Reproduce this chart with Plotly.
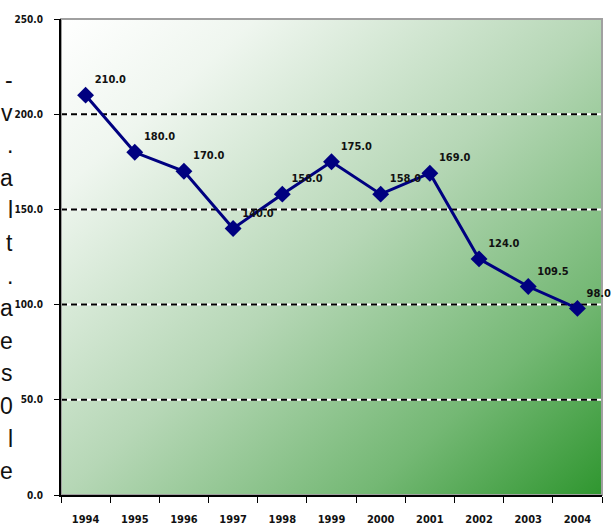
import base64
import plotly.graph_objects as go

# Series data
years = ["1994", "1995", "1996", "1997", "1998", "1999",
         "2000", "2001", "2002", "2003", "2004"]
values = [210.0, 180.0, 170.0, 140.0, 158.0, 175.0,
          158.0, 169.0, 124.0, 109.5, 98.0]
y_ticks = [0, 50, 100, 150, 200, 250]
grid_values = [50, 100, 150, 200]

# Line-ends of a neighbouring text column that run into the left edge
side_text = ["-", "v", ".", "a", "l", "t", ".", "a", "e", "s", "0", "l", "e"]

W, H = 611, 531
M_L, M_R, M_T, M_B = 61, 9, 19, 36
narrow = "DejaVu Sans Condensed, Liberation Sans Narrow, Arial Narrow, sans-serif"

# Diagonal white-to-green backdrop for the plot area
svg = (
    '<svg xmlns="http://www.w3.org/2000/svg" width="200" height="200" '
    'preserveAspectRatio="none"><defs><linearGradient id="g" x1="0" y1="0" '
    'x2="1" y2="1">'
    '<stop offset="0" stop-color="#ffffff"/>'
    '<stop offset="0.18" stop-color="#eff6ef"/>'
    '<stop offset="0.5" stop-color="#b6d7b6"/>'
    '<stop offset="0.78" stop-color="#74b874"/>'
    '<stop offset="1" stop-color="#2f962f"/>'
    '</linearGradient></defs>'
    '<rect width="200" height="200" fill="url(#g)"/></svg>'
)
bg_src = "data:image/svg+xml;base64," + base64.b64encode(svg.encode()).decode()

fig = go.Figure()
fig.add_trace(go.Scatter(
    x=years, y=values,
    mode="lines+markers+text",
    line=dict(color="#000080", width=3),
    marker=dict(symbol="diamond", size=13, color="#000080"),
    text=[f"<b>{v:.1f}</b>" for v in values],
    textposition="top right",
    textfont=dict(family=narrow, size=11, color="#111111"),
    cliponaxis=False,
    showlegend=False,
))

shapes = []
for v in grid_values:
    shapes.append(dict(type="line", xref="paper", x0=0, x1=1, yref="y", y0=v, y1=v,
                       line=dict(color="white", width=2), layer="between"))
    shapes.append(dict(type="line", xref="paper", x0=0, x1=1, yref="y", y0=v, y1=v,
                       line=dict(color="black", width=2, dash="6px,4px"), layer="between"))
shapes.append(dict(type="rect", xref="paper", yref="paper", x0=0, x1=1, y0=0, y1=1,
                   line=dict(color="#a0a0a0", width=2), layer="between"))

plot_w = W - M_L - M_R
plot_h = H - M_T - M_B
annotations = []
line_gap = 32.6
for i, ch in enumerate(side_text):
    px_y = 80 + i * line_gap
    annotations.append(dict(
        text=ch, xref="paper", yref="paper",
        x=(15 - M_L) / plot_w, y=1 - (px_y - M_T) / plot_h,
        xanchor="right", yanchor="middle", showarrow=False,
        font=dict(family="Liberation Sans, Arial", size=23, color="#111111"),
    ))

x_font = dict(family=narrow, size=11, color="#111111", weight="bold")
y_font = dict(family=narrow, size=10, color="#111111", weight="bold")

fig.update_layout(
    width=W, height=H,
    margin=dict(l=M_L, r=M_R, t=M_T, b=M_B, pad=0),
    paper_bgcolor="white",
    plot_bgcolor="rgba(0,0,0,0)",
    images=[dict(source=bg_src, xref="paper", yref="paper", x=0, y=1,
                 sizex=1, sizey=1, sizing="stretch", layer="below")],
    shapes=shapes,
    annotations=annotations,
    xaxis=dict(
        type="category", range=[-0.5, len(years) - 0.5],
        automargin=False,
        showgrid=False, zeroline=False,
        showline=True, linecolor="black", linewidth=2,
        ticks="outside", ticklen=6, tickcolor="black", tickwidth=1,
        tickson="boundaries", ticklabelstandoff=13,
        tickfont=x_font,
    ),
    yaxis=dict(
        range=[0, 250], tickvals=y_ticks, tickformat=".1f",
        automargin=False,
        showgrid=False, zeroline=False,
        showline=True, linecolor="black", linewidth=2,
        ticks="outside", ticklen=5, tickcolor="black", tickwidth=1,
        ticklabelstandoff=9,
        tickfont=y_font,
    ),
)

fig.write_html("out.html")
